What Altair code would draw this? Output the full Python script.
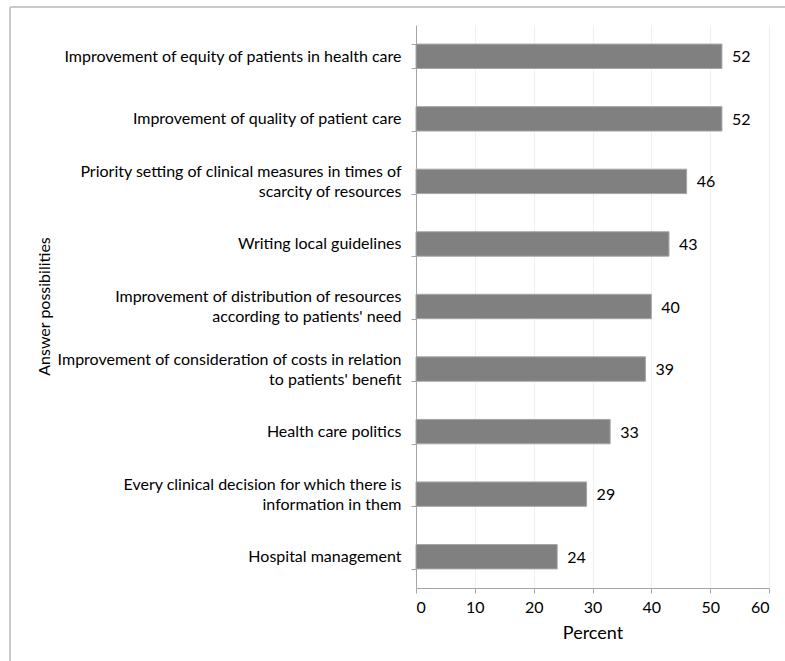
import altair as alt
import pandas as pd

categories = [
    "Improvement of equity of patients in health care",
    "Improvement of quality of patient care",
    "Priority setting of clinical measures in times of|scarcity of resources",
    "Writing local guidelines",
    "Improvement of distribution of resources|according to patients' need",
    "Improvement of consideration of costs in relation|to patients' benefit",
    "Health care politics",
    "Every clinical decision for which there is|information in them",
    "Hospital management",
]
values = [52, 52, 46, 43, 40, 39, 33, 29, 24]
x_ticks = [0, 10, 20, 30, 40, 50, 60]

df = pd.DataFrame({"cat": categories, "pct": values})

FONT = "Lato"
ZW = "\u200b"

label_expr = (
    "indexof(datum.label, '|') >= 0 ? "
    f"[split(datum.label, '|')[0], '{ZW}', split(datum.label, '|')[1]] : "
    f"['{ZW}', datum.label]"
)

y_enc = alt.Y(
    "cat:N",
    sort=categories,
    scale=alt.Scale(paddingInner=0.61, paddingOuter=0.305),
    axis=alt.Axis(
        title="Answer possibilities",
        labelExpr=label_expr,
        labelFont=FONT,
        labelFontSize=16,
        labelColor="#000000",
        labelLineHeight=10,
        labelOffset=-10,
        labelPadding=10,
        labelLimit=400,
        tickBand="extent",
        tickSize=5,
        tickColor="#a6a6a6",
        domainColor="#a6a6a6",
        titleFont=FONT,
        titleFontSize=16,
        titleFontWeight="normal",
        titleColor="#000000",
        titleX=-372,
        titleY=281,
        titleAngle=270,
        titleAlign="center",
        titleBaseline="middle",
    ),
)

x_enc = alt.X(
    "pct:Q",
    scale=alt.Scale(domain=[0, 60], nice=False),
    axis=alt.Axis(
        title="Percent",
        values=x_ticks,
        labelFont=FONT,
        labelFontSize=16,
        labelColor="#000000",
        labelPadding=6,
        tickSize=5,
        tickColor="#a6a6a6",
        domainColor="#a6a6a6",
        grid=True,
        gridColor="#f0f0f0",
        titleFont=FONT,
        titleFontSize=18,
        titleFontWeight="normal",
        titleColor="#000000",
        titlePadding=9,
    ),
)

bars = alt.Chart(df).mark_bar(
    color="#808080", stroke="#a6a6a6", strokeWidth=1
).encode(x=x_enc, y=y_enc)

texts = alt.Chart(df).mark_text(
    align="left", baseline="middle", dx=10, dy=1, font=FONT, fontSize=16, color="#000000"
).encode(x="pct:Q", y=alt.Y("cat:N", sort=categories), text="pct:Q")

frame_top = alt.Chart(df).mark_rule(color="#c8c8c8", strokeWidth=1.5).encode(
    x=alt.value(-406), x2=alt.value(369), y=alt.value(-18)
)
frame_left = alt.Chart(df).mark_rule(color="#c8c8c8", strokeWidth=1.5).encode(
    x=alt.value(-406), y=alt.value(-18), y2=alt.value(636)
)

chart = (
    alt.layer(bars, texts, frame_top, frame_left)
    .properties(
        width=353,
        height=563,
        autosize=alt.AutoSizeParams(type="none"),
        padding={"left": 416, "top": 25, "right": 16, "bottom": 73},
        background="white",
    )
    .configure_view(stroke=None)
)

chart.save("out.html", embed_options={"renderer": "svg", "actions": False})
